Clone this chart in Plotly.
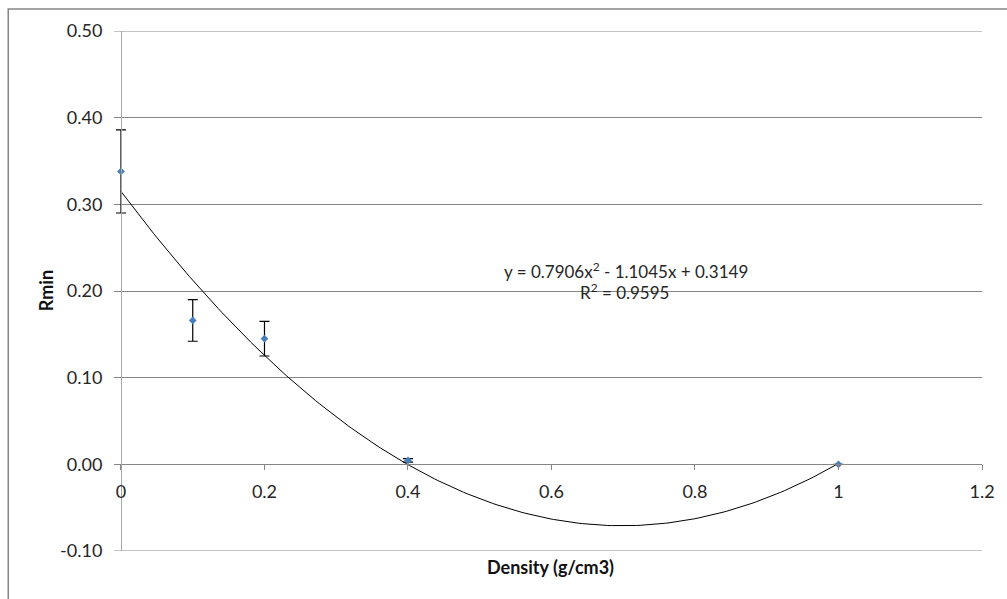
import numpy as np
import plotly.graph_objects as go

density = [0, 0.1, 0.2, 0.4, 1.0]
rmin = [0.338, 0.166, 0.145, 0.0045, 0.0]
rmin_err = [0.048, 0.024, 0.020, 0.002, 0.0]
trend_coef = [0.7906, -1.1045, 0.3149]  # a, b, c
x_ticks = [0, 0.2, 0.4, 0.6, 0.8, 1.0, 1.2]
y_ticks = [-0.10, 0.0, 0.10, 0.20, 0.30, 0.40, 0.50]

W, H = 1007, 599
AX = 121          # pixel of the y axis line
TICK = 7          # tick length left of the y axis
L, R, T, B = AX - TICK, 23, 31, 48
pw, ph = W - L - R, H - T - B
ppu = (W - R - AX) / 1.2   # pixels per x unit
xmin = -TICK / ppu

xt = np.linspace(0, 1, 200)
yt = np.polyval(trend_coef, xt)

fig = go.Figure()
fig.add_trace(go.Scatter(x=xt, y=yt, mode="lines",
                         line=dict(color="black", width=1), hoverinfo="skip",
                         showlegend=False))
fig.add_trace(go.Scatter(x=density, y=rmin, mode="markers", cliponaxis=False,
                         marker=dict(symbol="diamond", size=6, color="#4a7ebb"),
                         error_y=dict(type="data", array=rmin_err, visible=True,
                                      color="black", thickness=1.2, width=5),
                         showlegend=False))

font = "Lato, Carlito, 'Liberation Sans', sans-serif"
tc = "#262626"
grid_c = "#868686"
shapes = [dict(type="rect", xref="paper", yref="paper",
               x0=(8 - L) / pw, x1=(W + 5 - L) / pw,
               y0=-(H + 5 - T - ph) / ph - 0.01, y1=1 + (T - 9) / ph,
               line=dict(color="#868686", width=1.5), layer="below")]
for yv in (y_ticks[0], y_ticks[-1]):
    shapes.append(dict(type="line", xref="paper", yref="y", x0=0, x1=1,
                       y0=yv, y1=yv, line=dict(color=grid_c, width=1),
                       layer="below"))

fig.update_layout(
    width=W, height=H,
    margin=dict(l=L, r=R, t=T, b=B),
    paper_bgcolor="white", plot_bgcolor="white",
    font=dict(family=font, size=18, color=tc),
    xaxis=dict(range=[xmin, 1.2], tickvals=x_ticks,
               ticktext=[f"{v:g}" for v in x_ticks],
               anchor="free", position=1/6,
               showline=True, linecolor=grid_c, linewidth=1,
               ticks="outside", ticklen=5, tickcolor=grid_c,
               ticklabelstandoff=6,
               showgrid=False, zeroline=False,
               tickfont=dict(size=18, color=tc)),
    yaxis=dict(range=[-0.10, 0.50], tickvals=y_ticks,
               ticktext=[f"{v:.2f}" for v in y_ticks],
               anchor="free", position=TICK / pw,
               showline=True, linecolor="#a6a6a6", linewidth=1,
               ticks="", ticklabelstandoff=15,
               showgrid=True, gridcolor=grid_c, gridwidth=1,
               zeroline=False, tickfont=dict(size=18, color=tc)),
    shapes=shapes,
    annotations=[
        dict(text="<b>Rmin</b>", xref="paper", yref="paper",
             x=(46 - L) / pw, y=1 - (291 - T) / ph, textangle=-90,
             xanchor="center", yanchor="middle",
             showarrow=False, font=dict(size=18, color="#111")),
        dict(text="<b>Density (g/cm3)</b>", xref="paper", yref="paper",
             x=(552 - L) / pw, y=1 - (567 - T) / ph,
             xanchor="center", yanchor="middle",
             showarrow=False, font=dict(size=18, color="#111")),
        dict(text="y = 0.7906x<sup>2</sup> - 1.1045x + 0.3149", xref="paper", yref="paper",
             x=(627 - L) / pw, y=1 - (270 - T) / ph,
             xanchor="center", yanchor="middle",
             showarrow=False, font=dict(size=17, color=tc)),
        dict(text="R<sup>2</sup> = 0.9595", xref="paper", yref="paper",
             x=(626 - L) / pw, y=1 - (291 - T) / ph,
             xanchor="center", yanchor="middle",
             showarrow=False, font=dict(size=17, color=tc)),
    ],
)

fig.write_html("out.html")
